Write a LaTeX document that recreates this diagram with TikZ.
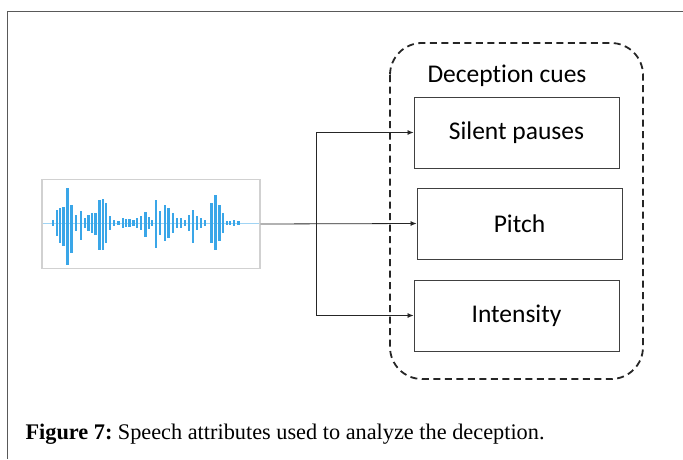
\documentclass[tikz,border=0pt]{standalone}
\usepackage{fontspec}
\setmainfont{Liberation Serif}
\newfontfamily\cuefont[Ligatures=NoCommon]{Carlito}
\usetikzlibrary{arrows.meta}
\definecolor{waveblue}{RGB}{58,166,232}
\definecolor{wavelight}{RGB}{160,212,244}
\begin{document}
\begin{tikzpicture}[x=1pt,y=-1pt,
  cue/.style={draw=black!75,line width=0.9pt,minimum width=205pt,minimum height=71pt,font=\cuefont\fontsize{25.5}{28}\selectfont},
  conn/.style={black!85,line width=0.8pt,-{Latex[length=6pt,width=5pt]}}]
\useasboundingbox (0,0) rectangle (683,459);
% page frame
\draw[black!65,line width=1pt] (683,11) -- (7,11) -- (7,459);

% speech signal
\node[draw=black!18,line width=1.2pt,minimum width=218pt,minimum height=89pt,inner sep=0pt] at (151,224) (wave) {};
\draw[wavelight,line width=1pt] (43,223) -- (259,223);
\foreach \x/\u/\d in {52.7/3/3,56.7/13/13,60/15/20,63.3/16/23,67.3/35/42,71.3/18/30,76/8/8,80.7/12/17,
  85/5/5,88.3/8/8,91.7/10/10,95.3/10/12,99.3/23/27,102.7/24/27,106/20/20,110/7/7,114/3/3,118.3/2/2,
  122.7/5/5,126/4/4,129.3/4/4,133.3/3/3,136.7/5/5,140.7/7/7,145.3/11/14,148.7/6/6,152/3/3,156/23/25,
  160/12/12,165/18/18,168.3/15/15,172.7/10/10,176.7/5/5,180.7/5/5,185/3/3,188.7/8/8,192.7/13/20,
  196.7/7/7,200.7/5/5,204.7/3/3,211.3/20/20,215.3/28/27,219.3/18/18,222.7/10/10,226.7/2/2,230/2/2,
  234/3/3,238.3/2/2}
  \fill[waveblue] (\x-1.2,223-\u) rectangle (\x+1.2,223+\d);

% cue group
\draw[black!85,line width=1.8pt,dash pattern=on 7pt off 4.5pt,rounded corners=32pt] (390,43) rectangle (643,379);
\node[font=\cuefont\fontsize{25.5}{28}\selectfont] at (507,76) (cues) {Deception cues};
\node[cue] at (516.5,132.5) (sil) {Silent pauses};
\node[cue] at (519.5,223.5) (pitch) {Pitch};
\node[cue] at (516.5,315.5) (inten) {Intensity};

% connectors
\coordinate (br) at (316,223.5);
\draw[conn] (wave.east) -- (pitch.west);
\draw[conn] (br) |- (sil.west);
\draw[conn] (br) |- (inten.west);

% caption
\node[anchor=west,font=\fontsize{22.3}{26}\selectfont] at (22,434) (cap) {\textbf{Figure 7:}\hspace{-2pt} Speech attributes used to analyze the deception.};
\end{tikzpicture}
\end{document}
